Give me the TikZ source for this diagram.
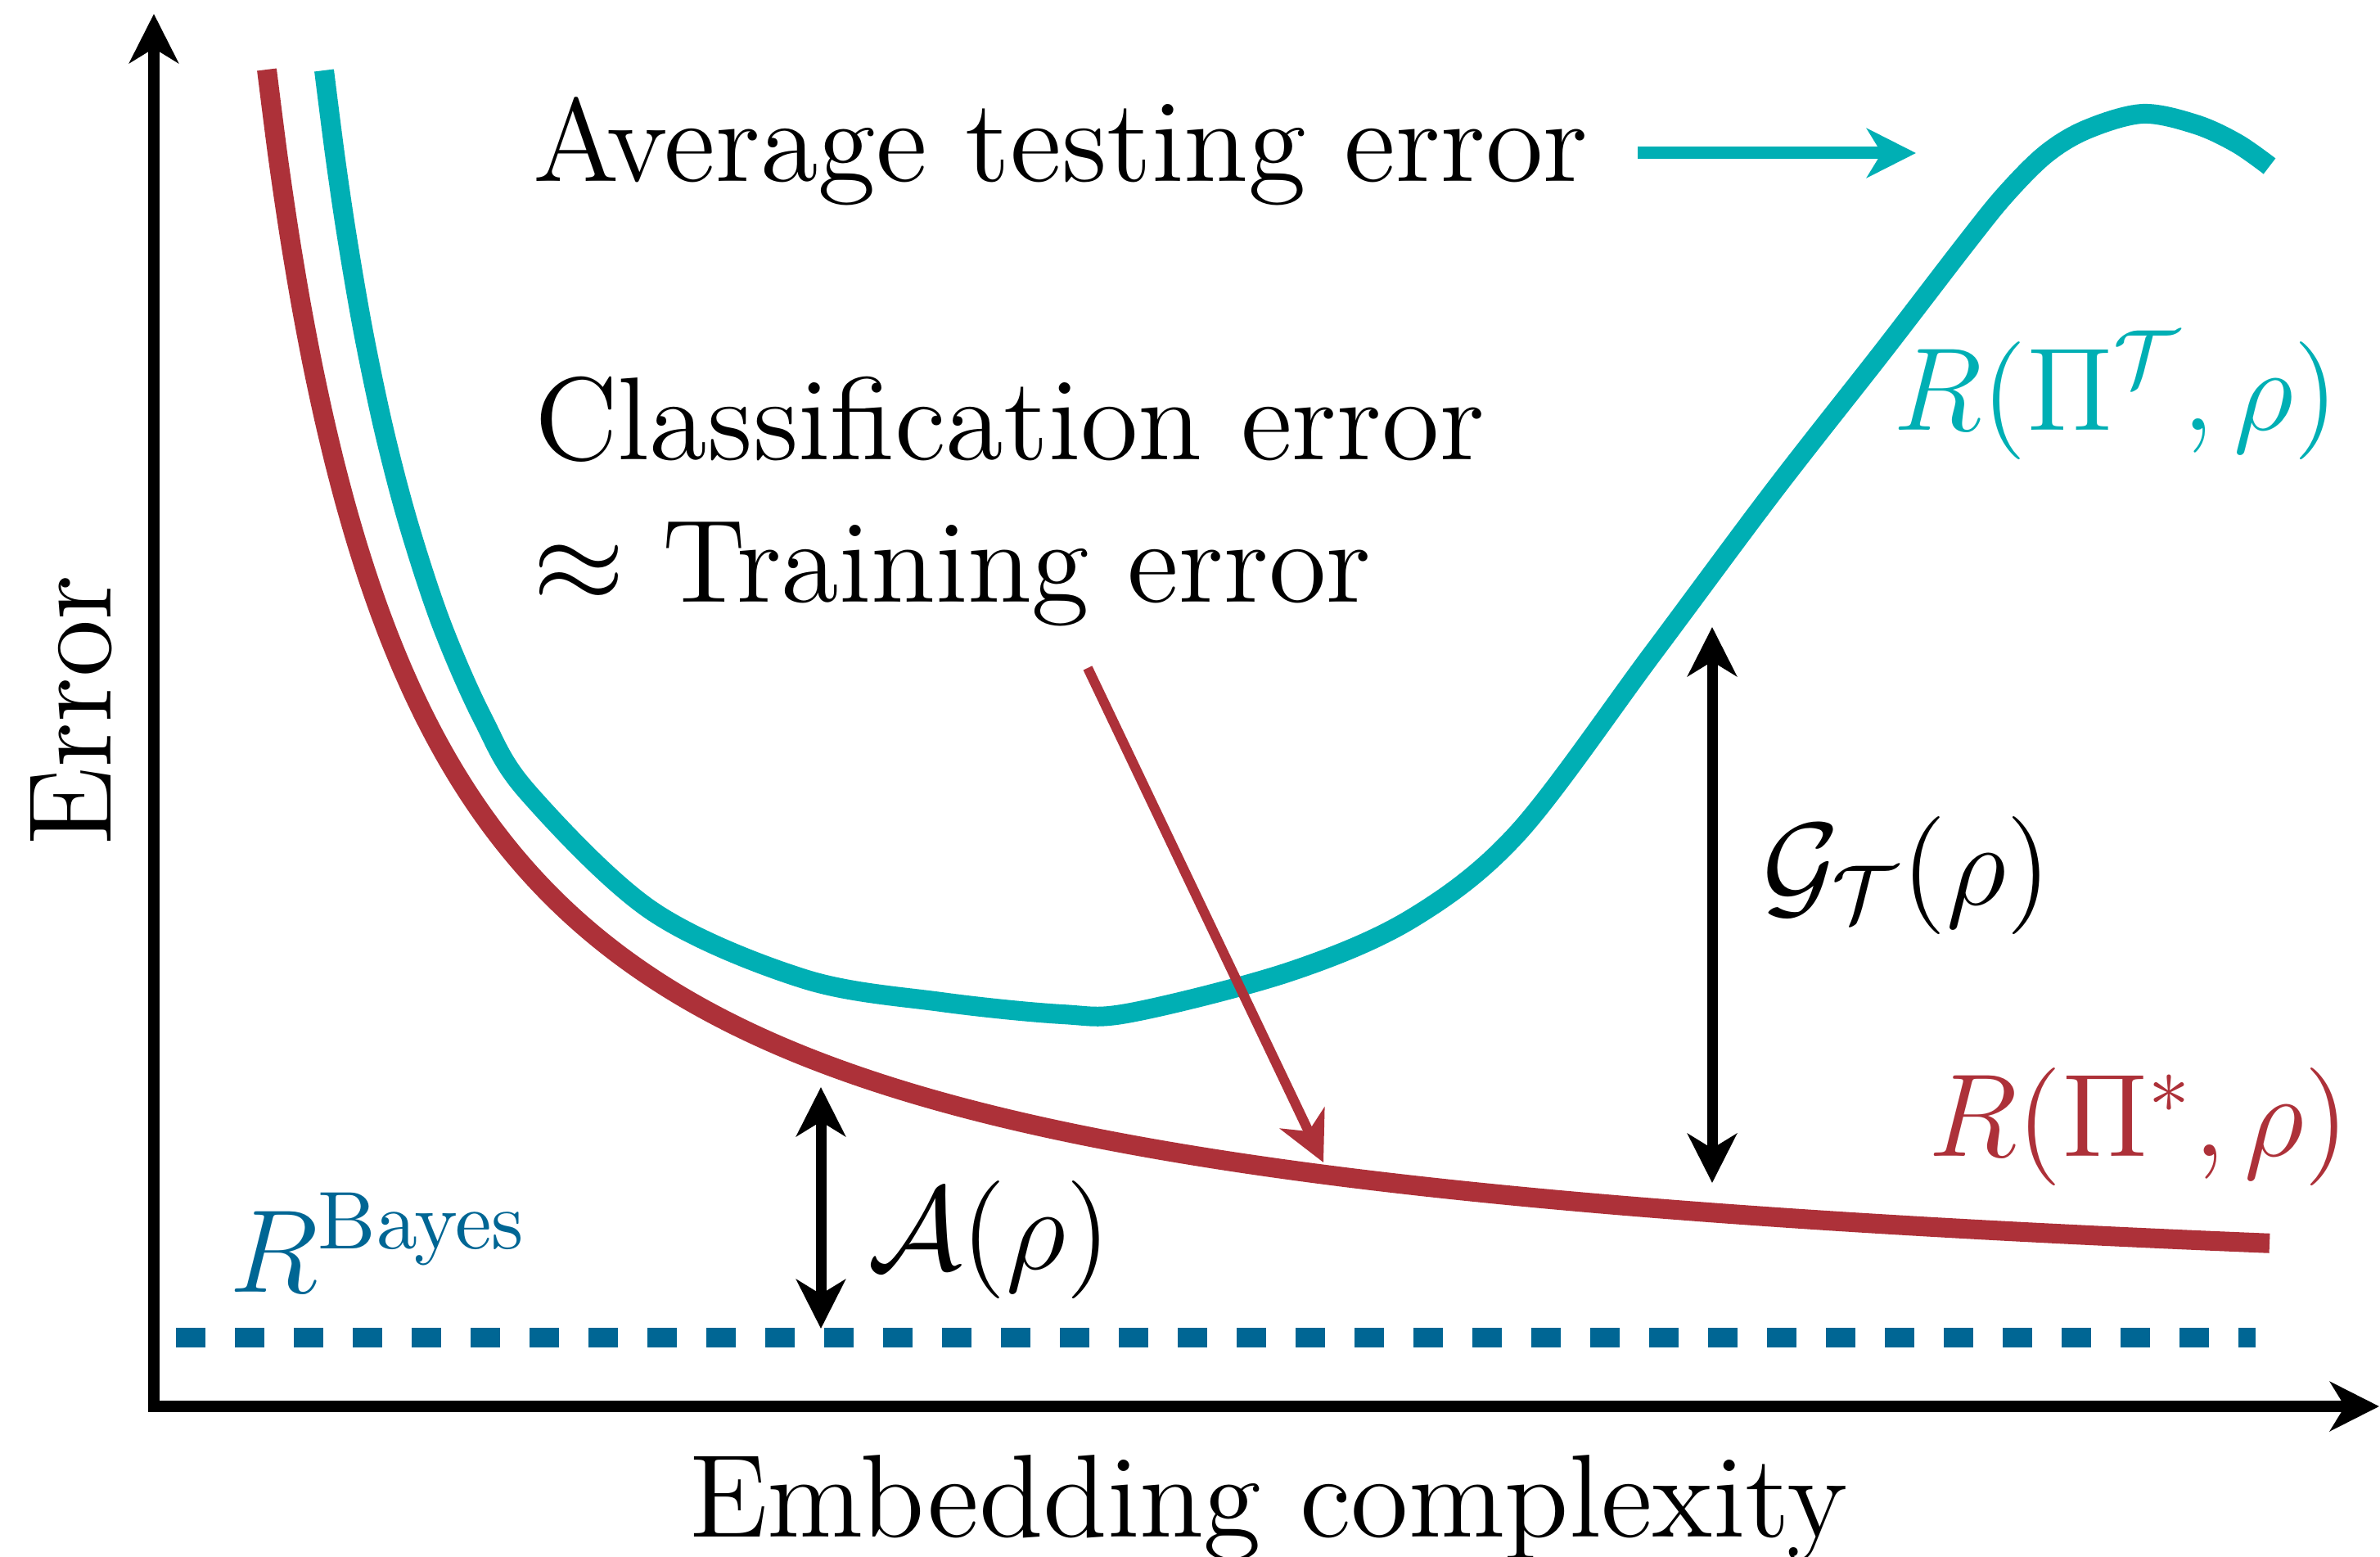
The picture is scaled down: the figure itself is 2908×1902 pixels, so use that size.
\RequirePackage{fix-cm}
\documentclass[tikz,border=0pt]{standalone}
\usetikzlibrary{arrows.meta}
\definecolor{testcyan}{RGB}{0,175,180}
\definecolor{trainred}{RGB}{173,49,57}
\definecolor{bayesblue}{RGB}{0,102,148}
\begin{document}
\begin{tikzpicture}[x=0.1pt, y=-0.1pt,
  >={Stealth[length=6pt,width=6pt,inset=1.8pt]},
  lbl/.style={inner sep=0pt, anchor=base west, font=\fontsize{14.4}{17}\selectfont},
  curve/.style={line width=2.4pt, line cap=butt, line join=round},
  axis/.style={line width=1.4pt, <->, line join=miter},
  gap/.style={line width=1.3pt, <->},
]
\useasboundingbox (0,0) rectangle (2908,1902);

% axes
\coordinate (ytip) at (188,17);
\coordinate (origin) at (188,1718);
\coordinate (xtip) at (2907,1718);
\draw[axis] (ytip) -- (origin) -- (xtip);

% Bayes level
\coordinate (bayesL) at (215,1634);
\coordinate (bayesR) at (2756,1634);
\draw[bayesblue, line width=2.4pt, dash pattern=on 3.6pt off 3.6pt] (bayesL) -- (bayesR);

% training (classification) error curve
\draw[curve, trainred] plot[domain=326:2773, samples=180, smooth]
  (\x, {1626 - 2820/((\x-143)/100)});

% average testing error curve
\draw[curve, testcyan] plot[smooth, tension=0.55] coordinates {
  (396,86) (410,195) (425,296) (445,411) (470,529) (500,643) (540,764)
  (590,878) (645,968) (797,1113) (983,1196) (1150,1224)
  (1298,1239) (1382,1237) (1576,1187) (1725,1122) (1855,1017) (2018,800)
  (2167,600) (2300,430) (2400,300) (2450,238) (2500,188) (2550,158)
  (2618,139) (2683,152) (2733,175) (2773,203)};

% labels
\node[lbl] (avg) at (649,222) {Average testing error};
\node[lbl] (cls) at (651,562) {Classification error};
\node[lbl] (trn) at (649,735) {$\approx$ Training error};
\node[lbl, rotate=90, anchor=base] (ylab) at (135,868) {Error};
\node[lbl, anchor=base] (xlab) at (1550,1877) {Embedding complexity};
\node[lbl, text=bayesblue] (rbayes) at (278,1578) {$R^{\mathrm{Bayes}}$};
\node[lbl, text=testcyan] (rtest) at (2311,525) {$R(\Pi^{\mathcal{T}},\rho)$};
\node[lbl, text=trainred] (rtrain) at (2354,1412) {$R(\Pi^*,\rho)$};
\node[lbl] (gtag) at (2151,1105) {$\mathcal{G}_{\mathcal{T}}(\rho)$};
\node[lbl] (atag) at (1058,1550) {$\mathcal{A}(\rho)$};

% pointer arrows
\coordinate (avgS) at (2001,187);
\coordinate (avgE) at (2341,187);
\draw[->, testcyan, line width=1.5pt] (avgS) -- (avgE);
\coordinate (clsS) at (1329,816);
\coordinate (clsE) at (1617,1420);
\draw[->, trainred, line width=1.2pt] (clsS) -- (clsE);

% gaps
\coordinate (aTop) at (1003,1328);
\coordinate (aBot) at (1003,1623);
\draw[gap] (aTop) -- (aBot);
\coordinate (gTop) at (2092,766);
\coordinate (gBot) at (2092,1445);
\draw[gap] (gTop) -- (gBot);
\end{tikzpicture}
\end{document}
